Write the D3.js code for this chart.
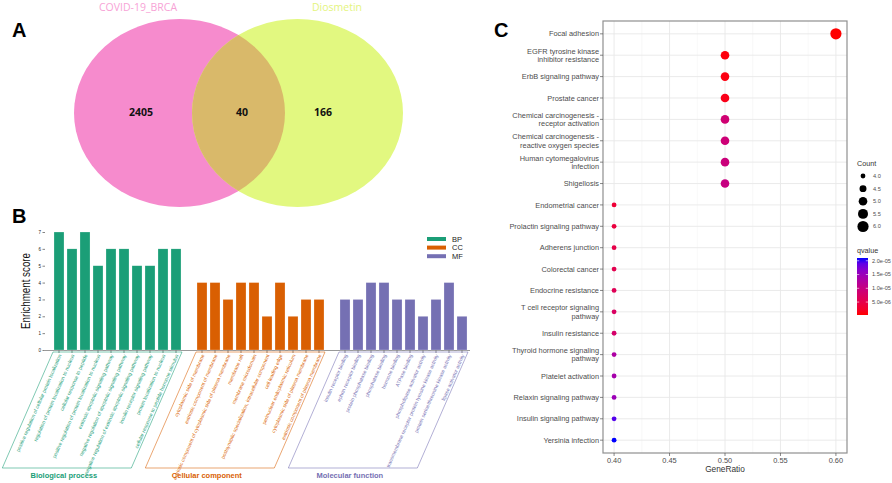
<!DOCTYPE html>
<html><head><meta charset="utf-8">
<script src="https://cdn.jsdelivr.net/npm/d3@7"></script>
<style>body{margin:0;background:#fff}svg{display:block}text{-webkit-font-smoothing:antialiased}</style>
</head><body>
<svg id="fig" width="892" height="483"></svg>
<script>
// ---------- DATA ----------
const vennSets = ["COVID-19_BRCA", "Diosmetin"];
const vennCounts = [2405, 40, 166]; // left only, overlap, right only

const bpTerms = [
  "positive regulation of cellular protein localization",
  "regulation of protein localization to nucleus",
  "cellular response to peptide",
  "positive regulation of protein localization to nucleus",
  "extrinsic apoptotic signaling pathway",
  "negative regulation of apoptotic signaling pathway",
  "negative regulation of extrinsic apoptotic signaling pathway",
  "insulin receptor signaling pathway",
  "protein localization to nucleus",
  "cellular response to peptide hormone stimulus"
];
const bpScores = [7, 6, 7, 5, 6, 6, 5, 5, 6, 6];
const ccTerms = [
  "cytoplasmic side of membrane",
  "extrinsic component of membrane",
  "extrinsic component of cytoplasmic side of plasma membrane",
  "membrane raft",
  "membrane microdomain",
  "postsynaptic specialization, intracellular component",
  "cell leading edge",
  "perinuclear endoplasmic reticulum",
  "cytoplasmic side of plasma membrane",
  "extrinsic component of plasma membrane"
];
const ccScores = [4, 4, 3, 4, 4, 2, 4, 2, 3, 3];
const mfTerms = [
  "insulin receptor binding",
  "ephrin receptor binding",
  "protein phosphatase binding",
  "phosphatase binding",
  "hormone binding",
  "ATPase binding",
  "phospholipase activator activity",
  "transmembrane receptor protein tyrosine kinase activity",
  "protein serine/threonine kinase activity",
  "lipase activator activity"
];
const mfScores = [3, 3, 4, 4, 3, 3, 2, 3, 4, 2];
const goKeys = ["BP", "CC", "MF"];
const goTitles = ["Biological process", "Cellular component", "Molecular function"];
const enrichTicks = [0, 1, 2, 3, 4, 5, 6, 7];

const keggTerms = [
  "Focal adhesion",
  "EGFR tyrosine kinase inhibitor resistance",
  "ErbB signaling pathway",
  "Prostate cancer",
  "Chemical carcinogenesis - receptor activation",
  "Chemical carcinogenesis - reactive oxygen species",
  "Human cytomegalovirus infection",
  "Shigellosis",
  "Endometrial cancer",
  "Prolactin signaling pathway",
  "Adherens junction",
  "Colorectal cancer",
  "Endocrine resistance",
  "T cell receptor signaling pathway",
  "Insulin resistance",
  "Thyroid hormone signaling pathway",
  "Platelet activation",
  "Relaxin signaling pathway",
  "Insulin signaling pathway",
  "Yersinia infection"
];
const keggGeneRatio = [0.6, 0.5, 0.5, 0.5, 0.5, 0.5, 0.5, 0.5,
  0.4, 0.4, 0.4, 0.4, 0.4, 0.4, 0.4, 0.4, 0.4, 0.4, 0.4, 0.4];
const keggCount = [6, 5, 5, 5, 5, 5, 5, 5, 4, 4, 4, 4, 4, 4, 4, 4, 4, 4, 4, 4];
const keggQvalue = [3e-7, 7e-7, 9e-7, 1.3e-6, 8.6e-6, 9.0e-6, 9.4e-6, 1.0e-5,
  3.4e-6, 4.0e-6, 4.9e-6, 5.5e-6, 6.1e-6, 7.1e-6, 7.8e-6,
  1.31e-5, 1.38e-5, 1.48e-5, 1.95e-5, 2.1e-5];
const ratioTicks = [0.40, 0.45, 0.50, 0.55, 0.60];
const countTicks = [4.0, 4.5, 5.0, 5.5, 6.0];
const qTicks = [5e-6, 1e-5, 1.5e-5, 2e-5];

// ---------- DRAW ----------
const svg = d3.select("#fig");
const SANS = "'Liberation Sans', Arial, sans-serif";

// panel letters
[["A", 12, 37], ["B", 12, 223], ["C", 494, 37]].forEach(([t, x, y]) => {
  svg.append("text").attr("x", x).attr("y", y).text(t)
    .attr("font-family", SANS).attr("font-weight", "bold").attr("font-size", 20).attr("fill", "#000");
});

// ---------- Panel A: Venn ----------
(function () {
  const g = svg.append("g");
  const cy = 113, rx = 105.5, ry = 94;
  const cxL = 179.5, cxR = 297.5;
  const defs = svg.append("defs");
  defs.append("clipPath").attr("id", "clipL")
    .append("ellipse").attr("cx", cxL).attr("cy", cy).attr("rx", rx).attr("ry", ry);
  g.append("ellipse").attr("cx", cxL).attr("cy", cy).attr("rx", rx).attr("ry", ry).attr("fill", "#f68bcd");
  g.append("ellipse").attr("cx", cxR).attr("cy", cy).attr("rx", rx).attr("ry", ry).attr("fill", "#e2f880");
  g.append("ellipse").attr("cx", cxR).attr("cy", cy).attr("rx", rx).attr("ry", ry)
    .attr("clip-path", "url(#clipL)").attr("fill", "#d9b96a");
  const VF = "'Open Sans', 'DejaVu Sans', sans-serif";
  g.append("text").attr("x", 138).attr("y", 11).attr("text-anchor", "middle")
    .attr("font-family", VF).attr("font-size", 10.5).attr("fill", "#f7a3d6").text(vennSets[0]);
  g.append("text").attr("x", 337).attr("y", 11).attr("text-anchor", "middle")
    .attr("font-family", VF).attr("font-size", 10.5).attr("fill", "#e4f47e").text(vennSets[1]);
  const nx = [141, 242, 323];
  vennCounts.forEach((v, i) => {
    g.append("text").attr("x", nx[i]).attr("y", 116).attr("text-anchor", "middle")
      .attr("font-family", VF).attr("font-weight", "bold").attr("font-size", 10.5).attr("fill", "#111").text(v);
  });
})();

// ---------- Panel B: GO bars ----------
(function () {
  const g = svg.append("g");
  const colors = { BP: "#1b9e77", CC: "#d95f02", MF: "#7570b3" };
  const groups = [
    { key: goKeys[0], title: goTitles[0], terms: bpTerms, scores: bpScores },
    { key: goKeys[1], title: goTitles[1], terms: ccTerms, scores: ccScores },
    { key: goKeys[2], title: goTitles[2], terms: mfTerms, scores: mfScores }
  ];
  const slots = [];
  groups.forEach((gr, gi) => { if (gi > 0) slots.push("__gap" + gi); gr.terms.forEach(t => slots.push(t)); });
  const x = d3.scaleBand().domain(slots).range([52.5, 468.5]).paddingInner(0.23).paddingOuter(0.115);
  const y = d3.scaleLinear().domain([0, 7]).range([350, 232]);
  const bw = x.bandwidth();

  // y axis
  const ya = g.append("g").attr("transform", "translate(45,0)")
    .call(d3.axisLeft(y).tickValues(enrichTicks).tickSize(2.5).tickPadding(1.5).tickFormat(d3.format("d")));
  ya.select(".domain").remove();
  ya.selectAll("text").attr("font-family", SANS).attr("font-size", 4.5).attr("fill", "#222");
  ya.selectAll("line").attr("stroke", "#333").attr("stroke-width", 0.6);

  g.append("text").attr("transform", "translate(30,291) rotate(-90)").attr("text-anchor", "middle")
    .attr("font-family", "'Liberation Sans Narrow', 'Liberation Sans', Arial, sans-serif")
    .attr("font-size", 13.5).attr("textLength", 76).attr("lengthAdjust", "spacingAndGlyphs")
    .attr("fill", "#111").text("Enrichment score");

  // baseline
  g.append("line").attr("x1", 44).attr("x2", 470).attr("y1", 350.5).attr("y2", 350.5)
    .attr("stroke", "#999").attr("stroke-width", 1);

  const ang = 66.4;
  const slant = 1 / Math.tan(ang * Math.PI / 180);
  const topY = 352, botY = 468;

  groups.forEach(gr => {
    const col = colors[gr.key];
    gr.terms.forEach((t, i) => {
      const v = gr.scores[i];
      g.append("rect").attr("x", x(t)).attr("y", y(v)).attr("width", bw).attr("height", y(0) - y(v))
        .attr("fill", col).attr("stroke", "#fff").attr("stroke-width", 0.4).attr("stroke-opacity", 0.6);
      const cx = x(t) + bw / 2;
      g.append("line").attr("x1", cx).attr("x2", cx).attr("y1", 350.5).attr("y2", 353)
        .attr("stroke", "#333").attr("stroke-width", 0.6);
      g.append("text").attr("transform", `translate(${cx + 1},${354.5}) rotate(${-ang})`)
        .attr("text-anchor", "end").attr("dy", "0.35em")
        .attr("font-family", SANS).attr("font-size", 5).attr("fill", col).text(t);
    });
    const x0 = x(gr.terms[0]) - 1, x1 = x(gr.terms[gr.terms.length - 1]) + bw + 1;
    const dx = (botY - topY) * slant;
    g.append("path").attr("d", `M${x0},${topY}L${x1},${topY}L${x1 - dx},${botY}L${x0 - dx},${botY}Z`)
      .attr("fill", "none").attr("stroke", col).attr("stroke-width", 0.7).attr("stroke-opacity", 0.8);
    g.append("text").attr("x", (x0 + x1) / 2 - dx - 3).attr("y", 478).attr("text-anchor", "middle")
      .attr("font-family", SANS).attr("font-weight", "bold").attr("font-size", 7.5).attr("fill", col).text(gr.title);
  });

  // legend
  groups.forEach((gr, i) => {
    const yy = 239 + i * 8.6;
    g.append("rect").attr("x", 427).attr("y", yy - 2).attr("width", 19).attr("height", 4).attr("fill", colors[gr.key]);
    g.append("text").attr("x", 452).attr("y", yy).attr("dy", "0.35em").attr("font-family", SANS)
      .attr("font-size", 7.5).attr("fill", "#222").text(gr.key);
  });
})();

// ---------- Panel C: KEGG dot plot ----------
(function () {
  const g = svg.append("g");
  const L = 603, R = 847, T = 21, B = 453;
  const x = d3.scaleLinear().domain([0.39, 0.61]).range([L, R]);
  const y = d3.scalePoint().domain(keggTerms).range([T, B]).padding(0.6);
  const qExt = d3.extent(keggQvalue);
  const col = d3.scaleLinear().domain(qExt).range(["red", "blue"]).interpolate(d3.interpolateLab);
  const r = d3.scaleRadial().domain([4, 6]).range([2.4, 5.6]);
  const TXT = "#4d4d4d";

  g.append("rect").attr("x", L).attr("y", T).attr("width", R - L).attr("height", B - T).attr("fill", "#fff");
  // minor grid
  for (let i = 0; i < ratioTicks.length - 1; i++) {
    const m = (ratioTicks[i] + ratioTicks[i + 1]) / 2;
    g.append("line").attr("x1", x(m)).attr("x2", x(m)).attr("y1", T).attr("y2", B)
      .attr("stroke", "#f0f0f0").attr("stroke-width", 0.5);
  }
  ratioTicks.forEach(t => g.append("line").attr("x1", x(t)).attr("x2", x(t)).attr("y1", T).attr("y2", B)
    .attr("stroke", "#e8e8e8").attr("stroke-width", 0.9));
  keggTerms.forEach(t => g.append("line").attr("x1", L).attr("x2", R).attr("y1", y(t)).attr("y2", y(t))
    .attr("stroke", "#e8e8e8").attr("stroke-width", 0.9));

  // dots
  keggTerms.forEach((t, i) => {
    g.append("circle").attr("cx", x(keggGeneRatio[i])).attr("cy", y(t)).attr("r", r(keggCount[i]))
      .attr("fill", col(keggQvalue[i]));
  });

  g.append("rect").attr("x", L).attr("y", T).attr("width", R - L).attr("height", B - T)
    .attr("fill", "none").attr("stroke", "#8f8f8f").attr("stroke-width", 1.2);

  // y labels
  const wrap = s => {
    const words = s.split(" "), lines = [];
    let cur = "";
    words.forEach(w => {
      const nx = cur ? cur + " " + w : w;
      if (nx.length < 30 || !cur) cur = nx; else { lines.push(cur); cur = w; }
    });
    lines.push(cur);
    return lines;
  };
  keggTerms.forEach(t => {
    const yy = y(t);
    g.append("line").attr("x1", L - 3).attr("x2", L).attr("y1", yy).attr("y2", yy).attr("stroke", "#555").attr("stroke-width", 0.7);
    const lines = wrap(t);
    const lh = 8.3;
    lines.forEach((ln, k) => {
      g.append("text").attr("x", L - 4).attr("y", yy + (k - (lines.length - 1) / 2) * lh).attr("dy", "0.35em")
        .attr("text-anchor", "end").attr("font-family", SANS).attr("font-size", 7.4).attr("fill", TXT).text(ln);
    });
  });
  // x axis
  ratioTicks.forEach(t => {
    g.append("line").attr("x1", x(t)).attr("x2", x(t)).attr("y1", B).attr("y2", B + 3).attr("stroke", "#555").attr("stroke-width", 0.7);
    g.append("text").attr("x", x(t)).attr("y", B + 10).attr("text-anchor", "middle")
      .attr("font-family", SANS).attr("font-size", 7.4).attr("fill", TXT).text(d3.format(".2f")(t));
  });
  g.append("text").attr("x", (L + R) / 2).attr("y", 471.5).attr("text-anchor", "middle")
    .attr("font-family", SANS).attr("font-size", 8.3).attr("fill", "#333").text("GeneRatio");

  // Count legend
  g.append("text").attr("x", 857).attr("y", 166).attr("font-family", SANS).attr("font-size", 7.2).attr("fill", "#333").text("Count");
  const ly = d3.scalePoint().domain(countTicks).range([176, 226.5]);
  countTicks.forEach(c => {
    g.append("circle").attr("cx", 863).attr("cy", ly(c)).attr("r", r(c)).attr("fill", "#000");
    g.append("text").attr("x", 873).attr("y", ly(c)).attr("dy", "0.35em").attr("font-family", SANS)
      .attr("font-size", 5.6).attr("fill", TXT).text(d3.format(".1f")(c));
  });

  // qvalue legend
  g.append("text").attr("x", 857).attr("y", 253).attr("font-family", SANS).attr("font-size", 7.2).attr("fill", "#333").text("qvalue");
  const cbT = 258, cbB = 315, cbL = 857, cbW = 11;
  const qy = d3.scaleLinear().domain(qExt).range([cbB, cbT]);
  const defs = svg.append("defs");
  const grad = defs.append("linearGradient").attr("id", "qgrad").attr("x1", 0).attr("x2", 0).attr("y1", 1).attr("y2", 0);
  d3.range(0, 1.0001, 0.1).forEach(s => {
    grad.append("stop").attr("offset", s).attr("stop-color", col(qExt[0] + s * (qExt[1] - qExt[0])));
  });
  g.append("rect").attr("x", cbL).attr("y", cbT).attr("width", cbW).attr("height", cbB - cbT).attr("fill", "url(#qgrad)");
  qTicks.forEach(q => {
    const yy = qy(q);
    g.append("line").attr("x1", cbL).attr("x2", cbL + 2.2).attr("y1", yy).attr("y2", yy).attr("stroke", "#fff").attr("stroke-width", 0.6);
    g.append("line").attr("x1", cbL + cbW - 2.2).attr("x2", cbL + cbW).attr("y1", yy).attr("y2", yy).attr("stroke", "#fff").attr("stroke-width", 0.6);
    g.append("text").attr("x", 872).attr("y", yy).attr("dy", "0.35em").attr("font-family", SANS)
      .attr("font-size", 5.6).attr("fill", TXT).text(d3.format(".1e")(q).replace(/e([+-])(\d)$/, "e$10$2"));
  });
})();
</script>
</body></html>
